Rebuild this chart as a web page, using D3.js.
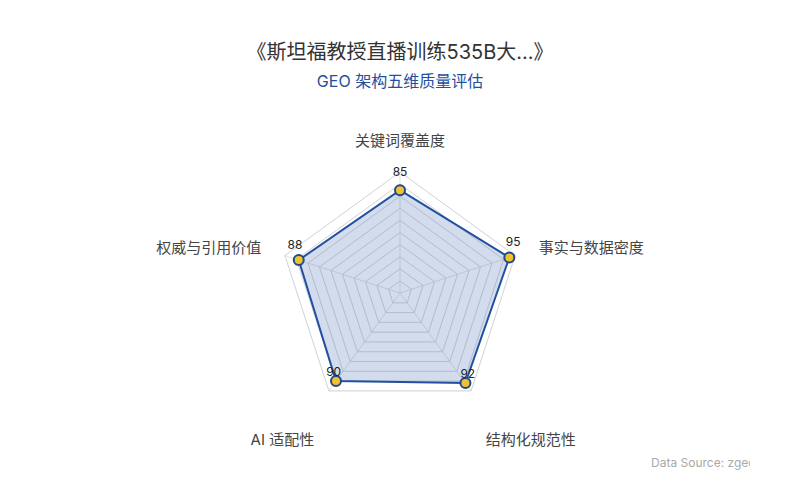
<!DOCTYPE html>
<html>
<head>
<meta charset="utf-8">
<script src="https://cdn.jsdelivr.net/npm/d3@7/dist/d3.min.js"></script>
<style>
  html, body { margin: 0; padding: 0; background: #fff; }
  svg text { font-family: Inter, "Noto Sans CJK SC", sans-serif; }
</style>
</head>
<body>
<div id="chart"></div>
<script>
var titleText = '《斯坦福教授直播训练535B大...》';
var subtitleText = 'GEO 架构五维质量评估';
var indicators = ['关键词覆盖度', '事实与数据密度', '结构化规范性', 'AI 适配性', '权威与引用价值'];
var scores = [85, 95, 92, 90, 88];
var maxScore = 100;
var ringCount = 10;
var sourceText = 'Data Source: zgeo.ai';

var width = 800,
    height = 500,
    cx = 400,
    cy = 293,
    radius = 121,
    nameGap = 25,
    blue = '#2150a0',
    gridColor = '#e3e3e3';

var svg = d3.select('#chart')
            .append('svg')
              .attr('width', width)
              .attr('height', height);

svg.append('text')
   .attr('x', width / 2)
   .attr('y', 52)
   .attr('text-anchor', 'middle')
   .attr('dominant-baseline', 'central')
   .style('font-size', '20px')
   .style('fill', '#333')
   .text(titleText);

svg.append('text')
   .attr('x', width / 2)
   .attr('y', 81)
   .attr('text-anchor', 'middle')
   .attr('dominant-baseline', 'central')
   .style('font-size', '16px')
   .style('fill', blue)
   .text(subtitleText);

var r = d3.scaleLinear().domain([0, maxScore]).range([0, radius]);

function angleOf(name) {
  return indicators.indexOf(name) * 2 * Math.PI / indicators.length;
}
function point(name, value) {
  var a = angleOf(name);
  return [cx + r(value) * Math.sin(a), cy - r(value) * Math.cos(a)];
}
function ringPoints(v) {
  return indicators.map(function(n) { return point(n, v).join(','); }).join(' ');
}

var g = svg.append('g');

// rings
var ringValues = d3.range(1, ringCount + 1).map(function(i) { return i * maxScore / ringCount; });
g.selectAll('.ring')
 .data(ringValues)
 .enter()
 .append('polygon')
   .attr('class', 'ring')
   .attr('points', ringPoints)
   .style('fill', 'none')
   .style('stroke', gridColor)
   .style('stroke-width', 1);

// spokes
g.selectAll('.spoke')
 .data(indicators)
 .enter()
 .append('line')
   .attr('class', 'spoke')
   .attr('x1', cx)
   .attr('y1', cy)
   .attr('x2', function(n) { return point(n, maxScore)[0]; })
   .attr('y2', function(n) { return point(n, maxScore)[1]; })
   .style('stroke', gridColor)
   .style('stroke-width', 1);

// indicator names
g.selectAll('.axis-name')
 .data(indicators)
 .enter()
 .append('text')
   .attr('class', 'axis-name')
   .each(function(n) {
     var a = angleOf(n),
         s = Math.sin(a),
         c = Math.cos(a),
         x = cx + (radius + nameGap) * s,
         y = cy - (radius + nameGap) * c,
         anchor = Math.abs(s) < 0.01 ? 'middle' : (s > 0 ? 'start' : 'end');
     if (Math.abs(s) < 0.01) y -= 7;          // bottom aligned at the top
     if (c < -0.5) y += 28;                    // lower names sit further down
     d3.select(this)
       .attr('x', x)
       .attr('y', y)
       .attr('text-anchor', anchor)
       .attr('dominant-baseline', 'central');
   })
   .style('font-size', '15px')
   .style('fill', '#444')
   .text(function(n) { return n; });

// data area
var line = d3.line().curve(d3.curveLinearClosed);
var pts = indicators.map(function(n, i) { return point(n, scores[i]); });

g.append('path')
 .attr('d', line(pts))
 .style('fill', blue)
 .style('fill-opacity', 0.2)
 .style('stroke', 'none');

// rings again, faintly, over the fill
g.selectAll('.ring-over')
 .data(ringValues)
 .enter()
 .append('polygon')
   .attr('class', 'ring-over')
   .attr('points', ringPoints)
   .style('fill', 'none')
   .style('stroke', '#9aa6bd')
   .style('stroke-opacity', 0.25)
   .style('stroke-width', 1);

g.append('path')
 .attr('d', line(pts))
 .style('fill', 'none')
 .style('stroke', blue)
 .style('stroke-width', 2);

g.selectAll('.dot')
 .data(indicators)
 .enter()
 .append('circle')
   .attr('class', 'dot')
   .attr('cx', function(n, i) { return point(n, scores[i])[0]; })
   .attr('cy', function(n, i) { return point(n, scores[i])[1]; })
   .attr('r', 5)
   .style('fill', '#f2c12e')
   .style('stroke', '#1f4a8f')
   .style('stroke-width', 2);

g.selectAll('.value')
 .data(indicators)
 .enter()
 .append('text')
   .attr('class', 'value')
   .attr('x', function(n, i) { return point(n, scores[i])[0] + 4 * Math.sin(angleOf(n)); })
   .attr('y', function(n, i) { return point(n, scores[i])[1] - 14 - 5 * Math.cos(angleOf(n)); })
   .attr('text-anchor', 'middle')
   .attr('dominant-baseline', 'central')
   .style('font-size', '12px')
   .style('fill', '#222')
   .text(function(n, i) { return scores[i]; });

// source note, cut off at the right like the original
svg.append('clipPath')
   .attr('id', 'src-clip')
   .append('rect')
     .attr('x', 600)
     .attr('y', 440)
     .attr('width', 150)
     .attr('height', 40);

svg.append('text')
   .attr('x', 651)
   .attr('y', 462)
   .attr('dominant-baseline', 'central')
   .attr('clip-path', 'url(#src-clip)')
   .style('font-size', '12px')
   .style('fill', '#aaa')
   .text(sourceText);
</script>
</body>
</html>
